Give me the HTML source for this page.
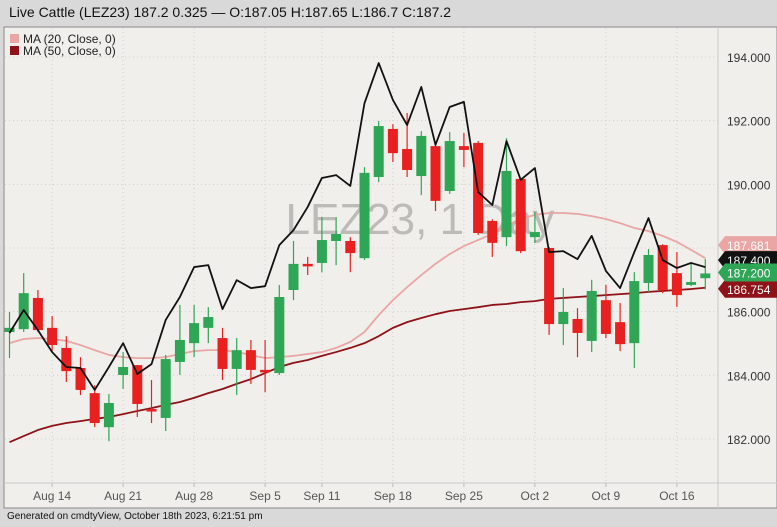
<!DOCTYPE html>
<html><head><meta charset="utf-8">
<style>
body{margin:0;width:777px;height:527px;background:#d9d9d9;font-family:"Liberation Sans",sans-serif;overflow:hidden;position:relative}
#title{position:absolute;left:9px;top:4px;font-size:14px;color:#111}
#footer{position:absolute;left:7px;top:511px;font-size:10px;color:#111}
svg{position:absolute;left:0;top:0}
</style></head><body>
<div id="title">Live Cattle (LEZ23) 187.2 0.325 — O:187.05 H:187.65 L:186.7 C:187.2</div>
<div id="footer">Generated on cmdtyView, October 18th 2023, 6:21:51 pm</div>
<svg id="chart" width="777" height="527"></svg>
<script>
const opens=[185.36,185.45,186.43,185.49,184.86,184.23,183.44,182.37,184.01,184.32,182.94,182.66,184.42,185.01,185.49,185.17,184.20,184.79,184.17,184.07,186.68,187.50,187.53,188.22,188.22,187.68,190.23,191.74,191.11,190.26,191.20,189.79,191.20,191.30,188.85,188.34,190.17,188.34,188.00,185.61,185.77,185.08,186.36,185.67,185.01,186.90,188.09,187.21,186.84,187.05];
const highs=[185.99,187.21,186.68,185.86,185.23,184.57,183.69,183.41,184.73,184.32,183.85,184.64,186.21,186.21,186.14,185.49,185.17,185.11,185.11,186.84,188.22,187.72,188.97,188.97,188.34,190.54,191.99,191.89,192.24,191.67,191.25,191.64,191.61,191.36,188.90,191.45,190.20,189.13,188.03,186.74,186.11,187.00,186.84,186.27,187.24,187.97,188.12,187.87,187.56,187.65];
const lows=[184.54,185.36,185.36,184.73,183.79,183.38,182.37,181.93,183.57,182.69,182.50,182.25,184.01,184.57,185.01,183.85,183.38,183.73,183.47,184.01,186.36,187.15,187.24,187.46,187.24,187.62,190.07,190.70,190.23,189.66,189.16,189.70,190.54,188.41,187.72,188.06,187.84,188.16,185.27,184.95,184.57,184.73,185.17,184.76,184.23,186.62,186.58,186.15,186.80,186.70];
const closes=[185.49,186.58,185.42,184.95,184.13,183.54,182.50,183.13,184.26,183.10,182.88,184.51,185.11,185.64,185.83,184.20,184.79,184.17,184.10,186.46,187.50,187.43,188.25,188.44,187.84,190.36,191.83,190.98,190.45,191.52,189.48,191.36,191.08,188.47,188.16,190.42,187.90,188.50,185.61,185.99,185.33,186.65,185.30,184.98,186.96,187.78,186.68,186.52,186.93,187.20];
const compareLine=[185.33,186.05,185.42,184.73,184.26,184.23,183.54,184.26,185.01,184.04,184.35,185.74,186.46,187.40,187.46,186.08,186.99,186.74,186.80,188.09,188.56,189.29,190.20,190.29,189.95,192.55,193.81,192.65,191.86,193.06,191.24,192.43,192.59,189.76,189.35,191.36,190.14,190.51,187.87,187.90,187.65,188.38,187.28,186.74,187.87,188.94,187.62,187.37,187.53,187.40];
const ma20=[185.01,185.14,185.17,185.14,185.08,184.95,184.79,184.64,184.57,184.54,184.54,184.57,184.67,184.76,184.79,184.79,184.73,184.64,184.54,184.57,184.61,184.67,184.73,184.86,185.05,185.36,185.89,186.36,186.77,187.15,187.50,187.81,188.06,188.25,188.44,188.69,188.91,189.04,189.10,189.10,189.07,189.00,188.91,188.78,188.63,188.53,188.38,188.19,187.94,187.68];
const ma50=[181.90,182.09,182.28,182.41,182.50,182.56,182.63,182.69,182.78,182.88,182.97,183.07,183.16,183.29,183.44,183.57,183.73,183.88,184.07,184.26,184.39,184.48,184.61,184.73,184.86,185.01,185.23,185.49,185.67,185.80,185.92,186.02,186.08,186.14,186.21,186.24,186.30,186.33,186.40,186.43,186.46,186.49,186.52,186.55,186.58,186.62,186.65,186.68,186.71,186.75];
const yTicks=[182,184,186,188,190,192,194];
const xTickLabels=["Aug 14","Aug 21","Aug 28","Sep 5","Sep 11","Sep 18","Sep 25","Oct 2","Oct 9","Oct 16"];
const xTickIdx=[3,8,13,18,22,27,32,37,42,47];

const NS="http://www.w3.org/2000/svg";
const svg=document.getElementById('chart');
function mk(t,a,p){const e=document.createElementNS(NS,t);for(const k in a)e.setAttribute(k,a[k]);(p||svg).appendChild(e);return e;}
const X=i=>9.5+14.2*i;
const Y=v=>57+(194-v)*31.83;

// panel
const panel=mk('rect',{x:4,y:27,width:773,height:481,fill:'#f1efeb',stroke:'#8a8a8a'});


const ax=mk('line',{x1:718,y1:27,x2:718,y2:508,stroke:'#c9c9c9'});


const bx=mk('line',{x1:4,y1:483,x2:777,y2:483,stroke:'#c9c9c9'});



yTicks.forEach(v=>{
  const g=mk('line',{x1:5,x2:718,y1:Y(v),y2:Y(v),stroke:'#cfcfcf','stroke-dasharray':'1,3'});
  
  
  const t=mk('text',{x:727,y:Y(v)+5,'font-size':12,fill:'#333'});
  t.textContent=v.toFixed(3);
  
  
});
xTickIdx.forEach((i,k)=>{
  const g=mk('line',{x1:X(i),x2:X(i),y1:28,y2:483,stroke:'#cfcfcf','stroke-dasharray':'1,3'});
  
  
  const tk=mk('line',{x1:X(i),x2:X(i),y1:483,y2:487,stroke:'#bbb'});
  
  
  const t=mk('text',{x:X(i),y:500,'font-size':12,fill:'#555','text-anchor':'middle'});
  t.textContent=xTickLabels[k];
  
  
});

const wm=mk('text',{x:420,y:234,'font-size':44,fill:'#bdbbb8','text-anchor':'middle'});
wm.textContent='LEZ23, 1 Day';



function line(arr,color,w,name){
  const p=mk('polyline',{points:arr.map((v,i)=>X(i)+','+Y(v)).join(' '),fill:'none',stroke:color,'stroke-width':w,'stroke-linejoin':'round'});
  
  
}
line(ma20,'#eaa5a5',1.8,'ma20-line');
line(ma50,'#8e1218',1.8,'ma50-line');

opens.forEach((o,i)=>{
  const c=closes[i],up=c>=o,col=up?'#2ea656':'#e8201f';
  const g=mk('g',{});
  
  
  mk('line',{x1:X(i),x2:X(i),y1:Y(highs[i]),y2:Y(lows[i]),stroke:col,'stroke-width':1.2},g);
  const top=Y(Math.max(o,c)),bot=Y(Math.min(o,c));
  mk('rect',{x:X(i)-5,y:top,width:10,height:Math.max(2.5,bot-top),fill:col},g);
});
line(compareLine,'#111',1.8,'comparison-line');

// price labels
function tag(y,bg,fg,txt,name){
  const g=mk('g',{});
  
  
  mk('path',{d:`M718 ${y} L725 ${y-9} L777 ${y-9} L777 ${y+9} L725 ${y+9} Z`,fill:bg},g);
  const t=mk('text',{x:727,y:y+5,'font-size':12,fill:fg},g);t.textContent=txt;
}
tag(Y(ma20[49])-13,'#eaa5a5','#fff','187.681','ma20-price-tag');
tag(Y(compareLine[49])-7,'#111','#fff','187.400','comparison-price-tag');
tag(Y(ma50[49])+1,'#8e1218','#fff',ma50[49].toFixed(3).replace('186.750','186.754'),'ma50-price-tag');
tag(Y(closes[49])-1,'#2ea656','#fff',closes[49].toFixed(3),'last-price-tag');

// legend
[['#eaa5a5','MA (20, Close, 0)'],['#8e1218','MA (50, Close, 0)']].forEach((l,k)=>{
  const g=mk('g',{});
  
  
  mk('rect',{x:10,y:34+k*12,width:9,height:9,fill:l[0]},g);
  const t=mk('text',{x:23,y:43+k*12,'font-size':12,fill:'#222'},g);t.textContent=l[1];
});
</script>
</body></html>
